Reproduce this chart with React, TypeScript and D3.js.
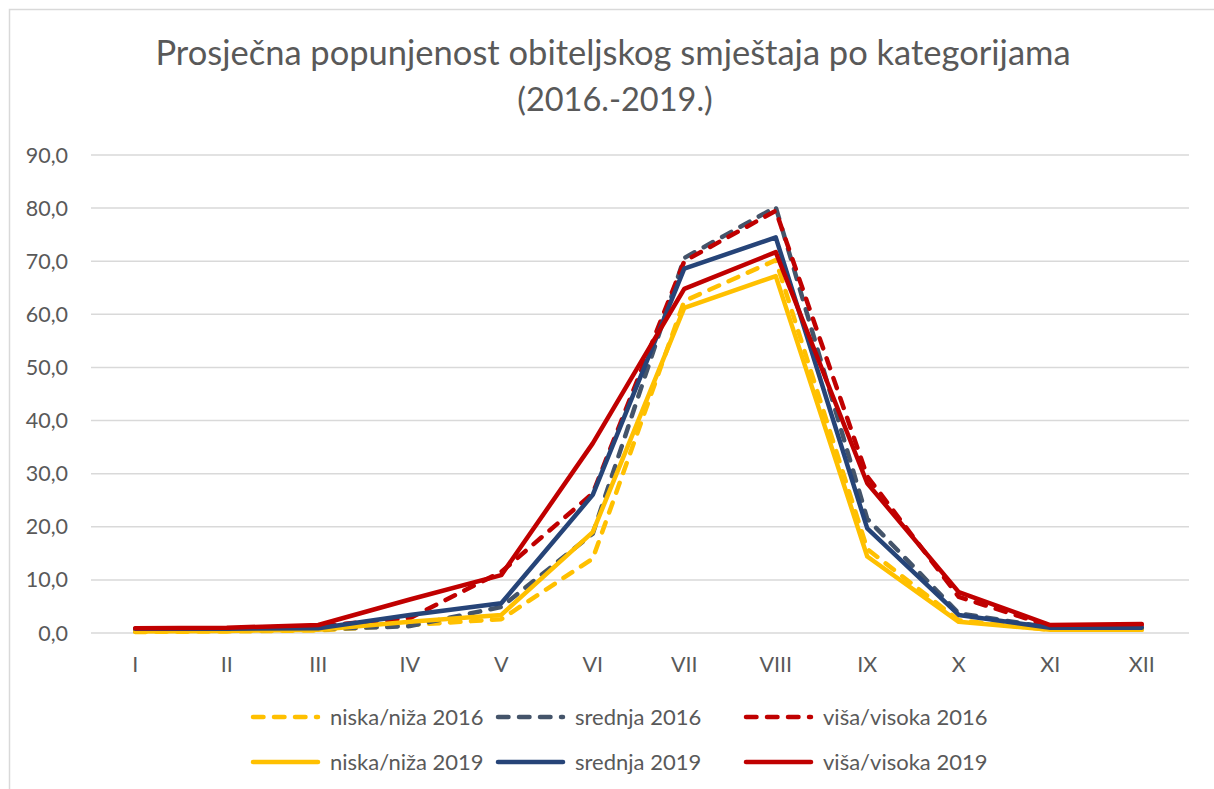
import React, { useEffect, useRef } from "react";
import * as d3 from "d3";

const months = ["I", "II", "III", "IV", "V", "VI", "VII", "VIII", "IX", "X", "XI", "XII"];
const yTicks = [0, 10, 20, 30, 40, 50, 60, 70, 80, 90];

const niska2016 = [0.2, 0.3, 0.5, 1.5, 2.6, 14.0, 62.5, 70.2, 15.8, 2.4, 0.6, 0.6];
const srednja2016 = [0.4, 0.5, 0.7, 1.3, 4.9, 18.7, 70.6, 80.2, 21.5, 3.7, 1.0, 1.0];
const visa2016 = [0.8, 0.9, 1.3, 2.8, 11.5, 26.3, 70.0, 79.5, 29.5, 6.8, 1.3, 1.5];
const niska2019 = [0.3, 0.4, 0.6, 2.1, 3.4, 19.0, 61.2, 67.2, 14.4, 2.1, 0.6, 0.6];
const srednja2019 = [0.8, 0.8, 0.9, 3.4, 5.6, 26.0, 68.6, 74.5, 19.7, 3.4, 1.0, 1.0];
const visa2019 = [0.9, 1.0, 1.5, 6.3, 10.9, 35.7, 64.8, 71.7, 28.2, 7.7, 1.5, 1.7];

const seriesNames = [
  "niska/niža 2016",
  "srednja 2016",
  "viša/visoka 2016",
  "niska/niža 2019",
  "srednja 2019",
  "viša/visoka 2019",
];
const seriesValues = [niska2016, srednja2016, visa2016, niska2019, srednja2019, visa2019];
const seriesColors = ["#FFC000", "#44546A", "#C00000", "#FFC000", "#264478", "#C00000"];
const seriesDashed = [true, true, true, false, false, false];

const FONT = "Lato, 'Open Sans', sans-serif";
const TEXT = "#595959";
const DASH = "10.5 10.5";

export default function App() {
  const ref = useRef<SVGSVGElement>(null);

  useEffect(() => {
    document.body.style.margin = "0";
    const svg = d3.select(ref.current);
    svg.selectAll("*").remove();

    const W = 1214, H = 789;
    const plotL = 91, plotR = 1189, plotT = 155, plotB = 633;

    svg.append("rect").attr("x", 0).attr("y", 0).attr("width", W).attr("height", H).attr("fill", "#fff");
    svg.append("rect").attr("x", 9.5).attr("y", 9.5).attr("width", W + 10).attr("height", H + 10)
      .attr("fill", "none").attr("stroke", "#d9d9d9").attr("stroke-width", 1.5);

    const x = d3.scaleBand<string>().domain(months).range([plotL - 1.5, plotR - 1.5]);
    const cx = (m: string) => (x(m) as number) + x.bandwidth() / 2;
    const y = d3.scaleLinear().domain([0, 90]).range([plotB, plotT]);

    // title
    const title = svg.append("g").attr("font-family", FONT).attr("fill", TEXT).attr("text-anchor", "middle");
    title.append("text").attr("x", 613).attr("y", 65).attr("font-size", 34.5)
      .text("Prosječna popunjenost obiteljskog smještaja po kategorijama");
    title.append("text").attr("x", 615).attr("y", 111).attr("font-size", 32.5).text("(2016.-2019.)");

    // gridlines
    svg.append("g").selectAll("line").data(yTicks).join("line")
      .attr("x1", plotL).attr("x2", plotR)
      .attr("y1", d => y(d)).attr("y2", d => y(d))
      .attr("stroke", "#d9d9d9").attr("stroke-width", 1.5);

    // y axis labels
    svg.append("g").attr("font-family", FONT).attr("font-size", 21.5).attr("fill", TEXT).attr("text-anchor", "end")
      .selectAll("text").data(yTicks).join("text")
      .attr("x", 68).attr("y", d => y(d)).attr("dy", "0.35em")
      .text(d => d3.format(".1f")(d).replace(".", ","));

    // x axis labels
    svg.append("g").attr("font-family", FONT).attr("font-size", 21.5).attr("fill", TEXT).attr("text-anchor", "middle")
      .selectAll("text").data(months).join("text")
      .attr("x", d => cx(d)).attr("y", 672)
      .text(d => d);

    // lines
    const line = d3.line<number>().x((_, i) => cx(months[i])).y(d => y(d));
    const lg = svg.append("g");
    seriesValues.forEach((vals, i) => {
      lg.append("path").attr("d", line(vals) as string)
        .attr("fill", "none").attr("stroke", seriesColors[i]).attr("stroke-width", 4.5)
        .attr("stroke-linejoin", "round").attr("stroke-linecap", "round")
        .attr("stroke-dasharray", seriesDashed[i] ? DASH : null);
    });

    // legend
    const legX = [253, 498, 746];
    const legY = [717, 762];
    const leg = svg.append("g").attr("font-family", FONT).attr("font-size", 22).attr("fill", TEXT);
    seriesNames.forEach((name, i) => {
      const col = i % 3, row = Math.floor(i / 3);
      const lx = legX[col], ly = legY[row];
      leg.append("line").attr("x1", lx).attr("x2", lx + 65).attr("y1", ly).attr("y2", ly)
        .attr("stroke", seriesColors[i]).attr("stroke-width", 4.5).attr("stroke-linecap", "round")
        .attr("stroke-dasharray", seriesDashed[i] ? DASH : null);
      leg.append("text").attr("x", lx + 77).attr("y", ly).attr("dy", "0.35em").text(name);
    });
  }, []);

  return <svg ref={ref} width={1214} height={789} style={{ display: "block" }} />;
}
